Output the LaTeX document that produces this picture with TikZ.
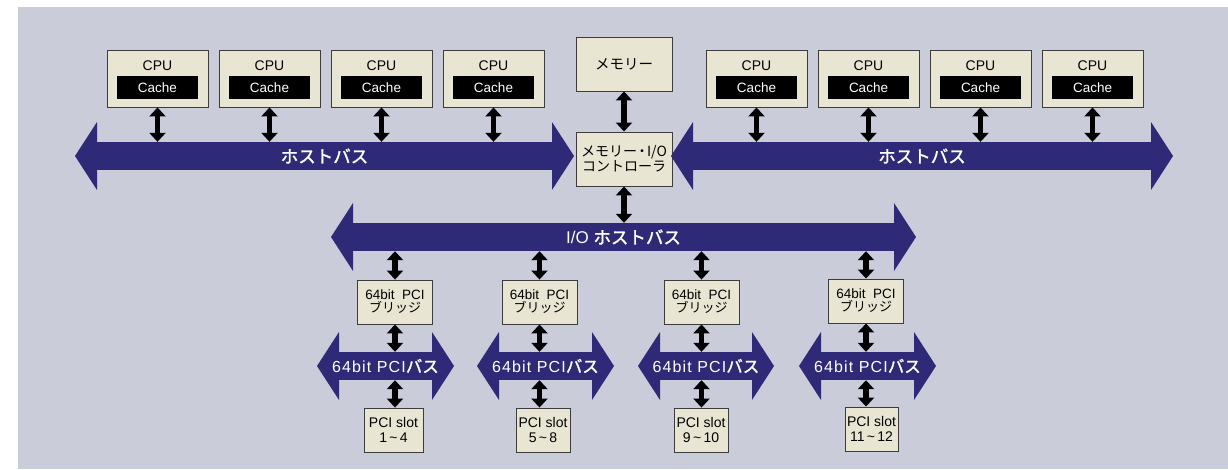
\documentclass[tikz,border=0pt]{standalone}
\usepackage{fontspec}
\setmainfont{Liberation Sans}
\newfontfamily\jp{Noto Sans CJK JP}
\newfontfamily\jpb{Noto Sans CJK JP}[FakeBold=1.6]
\usetikzlibrary{arrows.meta}

\definecolor{backdrop}{HTML}{CACCDA}
\definecolor{boxfill}{HTML}{E8E6D3}
\definecolor{boxline}{HTML}{3C3C3C}
\definecolor{busc}{HTML}{2F2A78}

\tikzset{
  box/.style={draw=boxline, fill=boxfill, line width=0.9pt, inner sep=0pt, align=center},
  cachebox/.style={fill=black, text=white, inner sep=0pt, minimum width=81, minimum height=23,
    font=\fontsize{13.5}{14}\selectfont},
  lbl/.style={inner sep=0pt, font=\fontsize{14}{15}\selectfont},
  busbody/.style={fill=busc, text=white, inner sep=0pt, minimum height=28},
  dbl/.style={line width=5.5pt, {Triangle[width=16pt,length=9pt]}-{Triangle[width=16pt,length=9pt]}},
}

% bus: name, body left x, body right x, centre y, label
\newcommand\bus[5]{%
  \fill[busc] (#2+1,#4-34) -- (#2-21,#4) -- (#2+1,#4+34) -- cycle;
  \fill[busc] (#3-1,#4-34) -- (#3+21,#4) -- (#3-1,#4+34) -- cycle;
  \node[busbody, minimum width={#3-#2}] (#1) at ({(#2+#3)/2},#4) {#5};}

% processor with its cache: name, left x
\newcommand\cpu[2]{%
  \node[box, minimum width=101, minimum height=57] (#1) at (#2+50.5,78.5) {};
  \node[cachebox] (#1c) at ([yshift=-9pt]#1.center) {Cache};
  \node[lbl] (#1t) at ([yshift=12.5pt]#1.center) {CPU};}

\begin{document}
\begin{tikzpicture}[x=1pt, y=-1pt]
\useasboundingbox (0,0) rectangle (1228,469);
\fill[white] (0,0) rectangle (1228,469);
\fill[backdrop] (18,7) rectangle (1228,469);

% processors
\cpu{cpuA}{107}
\cpu{cpuB}{219}
\cpu{cpuC}{331}
\cpu{cpuD}{443}
\cpu{cpuE}{706}
\cpu{cpuF}{818}
\cpu{cpuG}{930}
\cpu{cpuH}{1042}

% memory and controller
\node[box, minimum width=96, minimum height=54, font=\jp\fontsize{14.5}{15}\selectfont]
  (mem) at (624,64) {メモリー};
\node[box, minimum width=96, minimum height=54, font=\jp\fontsize{14}{15}\selectfont]
  (ctl) at (624,159) {メモリー{\kern-2pt}・{\kern-2pt}I/O\\コントローラ};

% host buses
\bus{hbL}{96}{553}{156}{\jpb\fontsize{17.5}{17}\selectfont ホストバス}
\bus{hbR}{692}{1152}{156}{\jpb\fontsize{17.5}{17}\selectfont ホストバス}

% I/O host bus
\bus{iob}{352}{895}{237}{\fontsize{17}{17}\selectfont I/O {\jpb\fontsize{17.5}{17}\selectfont ホストバス}}

% PCI bridges
\tikzset{bridge/.style={box, minimum width=75, minimum height=44, font=\fontsize{13.5}{14}\selectfont}}
\newcommand\bridgelabel{64bit\ \ PCI\\[-1pt]{\jp\fontsize{13}{14}\selectfont ブリッジ}}
\node[bridge] (brA) at (395,302)   {\bridgelabel};
\node[bridge] (brB) at (539.5,302) {\bridgelabel};
\node[bridge] (brC) at (701.5,302) {\bridgelabel};
\node[bridge] (brD) at (866,301)   {\bridgelabel};

% PCI buses
\newcommand\pcilabel{\fontsize{16}{17}\selectfont{\addfontfeature{LetterSpace=7}64bit PCI}{\jpb\fontsize{16.5}{17}\selectfont バス}}
\bus{pciA}{338}{433}{366}{\pcilabel}
\bus{pciB}{498}{593}{366}{\pcilabel}
\bus{pciC}{659}{753}{366}{\pcilabel}
\bus{pciD}{820}{915}{366}{\pcilabel}

% PCI slots
\tikzset{slot/.style={box, minimum height=44, font=\fontsize{14}{15}\selectfont}}
\node[slot, minimum width=59] (slA) at (393.5,430) {PCI slot\\1\,\textasciitilde\,4};
\node[slot, minimum width=54] (slB) at (543,430)   {PCI slot\\5\,\textasciitilde\,8};
\node[slot, minimum width=54] (slC) at (701,430)   {PCI slot\\9\,\textasciitilde\,10};
\node[slot, minimum width=53] (slD) at (871.5,429) {PCI slot\\11\,\textasciitilde\,12};

% connectors
\foreach \c in {cpuA,cpuB,cpuC,cpuD}
  \draw[dbl] (\c.south) -- (\c.south |- hbL.north);
\foreach \c in {cpuE,cpuF,cpuG,cpuH}
  \draw[dbl] (\c.south) -- (\c.south |- hbR.north);
\draw[dbl] (mem.south) -- (ctl.north);
\draw[dbl] (ctl.south) -- (ctl.south |- iob.north);
\foreach \g in {A,B,C,D}{
  \draw[dbl] (br\g.north |- iob.south) -- (br\g.north);
  \draw[dbl] (br\g.south) -- (br\g.south |- pci\g.north);
  \draw[dbl] (br\g.south |- pci\g.south) -- (br\g.south |- sl\g.north);
}
\end{tikzpicture}
\end{document}
